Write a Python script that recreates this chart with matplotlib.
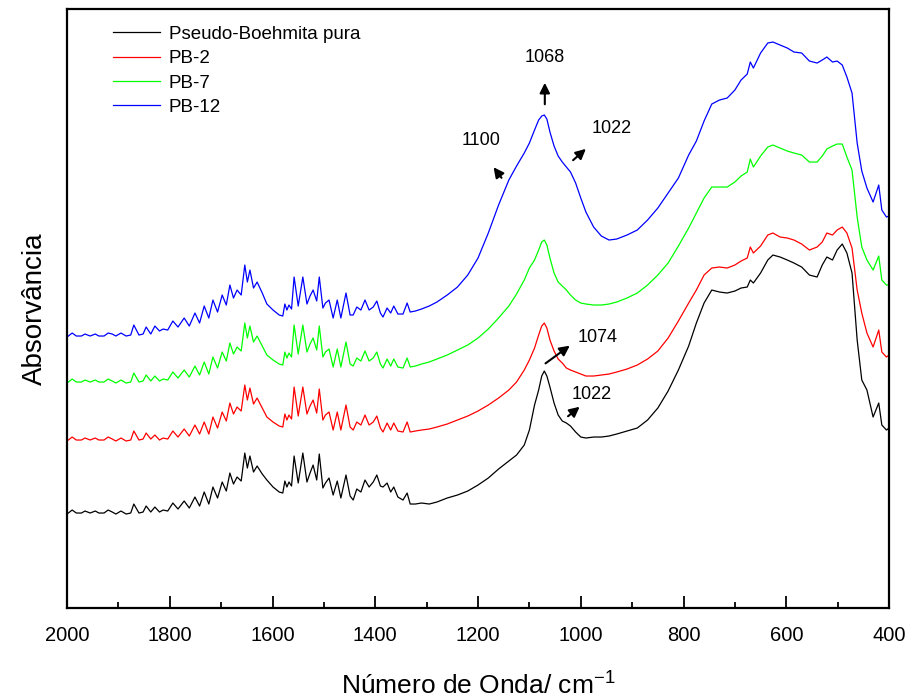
import numpy as np
import matplotlib
matplotlib.use('Agg')
import matplotlib.pyplot as plt
from matplotlib.ticker import MultipleLocator

plt.rcParams['font.family'] = ['Liberation Sans', 'DejaVu Sans']
plt.rcParams['mathtext.fontset'] = 'custom'
plt.rcParams['mathtext.rm'] = 'Liberation Sans'
plt.rcParams['mathtext.it'] = 'Liberation Sans'

# =====================================================================
# dados (número de onda em cm-1, absorbância em u.a.)
# =====================================================================
wavenumber = [
    2000, 1990, 1982, 1972, 1965, 1955, 1945, 1938, 1928, 1920,
    1912, 1905, 1895, 1885, 1876, 1870, 1860, 1852, 1846, 1837,
    1829, 1820, 1813, 1804, 1794, 1784, 1772, 1762, 1751, 1742,
    1733, 1724, 1716, 1707, 1698, 1690, 1683, 1676, 1669, 1661,
    1654, 1649, 1644, 1637, 1630, 1620, 1611, 1599, 1587, 1580,
    1576, 1572, 1568, 1563, 1558, 1550, 1541, 1533, 1527, 1521,
    1514, 1509, 1502, 1497, 1490, 1482, 1474, 1467, 1457, 1449,
    1443, 1436, 1428, 1420, 1412, 1404, 1397, 1390, 1385, 1377,
    1370, 1364, 1356, 1346, 1338, 1332, 1322, 1310, 1295, 1280,
    1260, 1240, 1220, 1200, 1180, 1160, 1140, 1125, 1110, 1100,
    1090, 1082, 1076, 1071, 1066, 1060, 1052, 1044, 1036, 1028,
    1020, 1010, 1000, 990, 975, 960, 945, 930, 910, 890,
    870, 850, 830, 810, 790, 775, 760, 745, 730, 715,
    700, 688, 676, 670, 664, 650, 636, 626, 612, 598,
    585, 570, 555, 540, 530, 521, 510, 501, 491, 482,
    472, 462, 453, 443, 431, 420, 414, 405, 400,
]

pb_pura = [
    94, 98, 95, 95, 97, 95, 97, 95, 95, 98,
    96, 94, 97, 94, 95, 104, 95, 96, 102, 96,
    101, 96, 98, 97, 105, 99, 107, 100, 111, 102,
    116, 104, 121, 110, 126, 117, 135, 124, 131, 127,
    155, 140, 152, 136, 142, 134, 128, 121, 116, 115,
    127, 121, 126, 122, 152, 125, 155, 126, 135, 143,
    128, 154, 120, 125, 130, 113, 127, 110, 133, 112,
    108, 119, 116, 128, 121, 126, 133, 122, 121, 125,
    116, 121, 111, 108, 115, 104, 104, 105, 104, 106,
    110, 113, 117, 123, 130, 139, 147, 153, 163, 178,
    203, 218, 232, 237, 232, 221, 205, 193, 187, 185,
    182, 176, 171, 170, 171, 171, 172, 174, 177, 180,
    188, 200, 217, 238, 262, 285, 305, 318, 316, 315,
    317, 320, 321, 328, 325, 335, 348, 353, 351, 348,
    345, 341, 333, 331, 343, 351, 348, 358, 364, 355,
    335, 268, 228, 218, 191, 205, 183, 178, 180,
]

pb_2 = [
    167, 171, 168, 168, 170, 168, 170, 168, 168, 171,
    169, 167, 170, 167, 168, 177, 168, 169, 175, 169,
    173, 168, 170, 169, 177, 171, 179, 172, 183, 174,
    186, 174, 191, 180, 196, 187, 205, 194, 201, 197,
    223, 208, 220, 204, 210, 200, 191, 186, 182, 181,
    194, 188, 193, 189, 221, 192, 221, 194, 202, 208,
    195, 219, 188, 193, 196, 178, 196, 178, 203, 181,
    178, 186, 183, 193, 183, 186, 192, 180, 176, 185,
    178, 185, 177, 176, 186, 176, 177, 178, 179, 181,
    184, 188, 192, 197, 203, 210, 218, 226, 238, 248,
    260, 273, 282, 285, 280, 268, 257, 249, 245, 240,
    238, 236, 234, 232, 232, 233, 234, 236, 239, 243,
    249, 257, 270, 287, 305, 318, 333, 340, 341, 340,
    343, 347, 350, 361, 355, 362, 373, 375, 371, 370,
    368, 364, 358, 361, 366, 375, 373, 378, 381, 375,
    360, 318, 295, 275, 261, 278, 256, 251, 253,
]

pb_7 = [
    225, 229, 226, 226, 228, 226, 228, 226, 226, 229,
    227, 225, 228, 225, 226, 235, 226, 227, 233, 227,
    232, 227, 229, 228, 236, 230, 238, 231, 242, 233,
    246, 234, 251, 240, 256, 247, 265, 254, 261, 257,
    285, 270, 282, 266, 272, 262, 253, 248, 244, 243,
    256, 250, 255, 251, 283, 254, 283, 256, 264, 270,
    258, 282, 251, 256, 259, 241, 259, 241, 266, 244,
    242, 250, 247, 257, 247, 250, 256, 244, 240, 249,
    242, 249, 241, 240, 250, 241, 242, 244, 246, 249,
    253, 258, 263, 270, 279, 290, 302, 314, 328, 340,
    348, 358, 366, 368, 363, 350, 335, 326, 322, 318,
    313, 308, 305, 304, 303, 303, 304, 306, 310, 315,
    323, 333, 345, 362, 380, 395, 410, 421, 421, 421,
    426, 432, 436, 449, 441, 452, 461, 463, 460, 457,
    455, 453, 446, 446, 452, 459, 462, 464, 464, 451,
    438, 391, 361, 348, 338, 352, 328, 323, 323,
]

pb_12 = [
    271, 275, 272, 272, 274, 272, 274, 272, 272, 275,
    274, 272, 275, 272, 273, 283, 273, 274, 281, 274,
    282, 277, 279, 278, 287, 281, 290, 282, 295, 285,
    302, 290, 308, 296, 313, 303, 323, 310, 318, 313,
    343, 326, 338, 320, 326, 315, 304, 298, 293, 292,
    304, 298, 303, 299, 331, 302, 331, 304, 312, 318,
    307, 331, 300, 305, 308, 290, 308, 290, 315, 293,
    293, 301, 298, 308, 298, 301, 307, 295, 291, 300,
    295, 302, 294, 294, 305, 296, 297, 299, 302, 306,
    313, 321, 333, 350, 375, 403, 428, 442, 455, 465,
    478, 488, 492, 493, 489, 476, 462, 452, 446, 441,
    436, 425, 410, 396, 381, 372, 368, 369, 373, 378,
    388, 400, 415, 430, 453, 467, 487, 504, 508, 510,
    518, 528, 534, 546, 540, 555, 565, 566, 563, 560,
    556, 555, 547, 545, 548, 551, 546, 547, 543, 531,
    515, 465, 437, 420, 406, 423, 398, 391, 392,
]

series_labels = ['Pseudo-Boehmita pura', 'PB-2', 'PB-7', 'PB-12']
series_colors = ['black', '#ff0000', '#00ff00', '#0000ff']

# anotações: texto, posição do texto, cauda e ponta da seta
annot_text = ['1068', '1100', '1022', '1074', '1022']
annot_text_pos = [(1070, 551), (1194, 468), (939, 480), (968, 271), (978, 214)]
annot_tail = [(1070, 501), (1151, 428), (1019, 446), (1073, 243), (1029, 190)]
annot_head = [(1070, 528), (1173, 443), (986, 461), (1017, 264), (998, 203)]

# =====================================================================
# gráfico
# =====================================================================
fig = plt.figure(figsize=(9.12, 7.0), dpi=100)
ax = fig.add_axes([0.0735, 0.1314, 0.9013, 0.8557])

for vals, lab, col in zip([pb_pura, pb_2, pb_7, pb_12], series_labels, series_colors):
    ax.plot(wavenumber, vals, color=col, lw=0.9, label=lab)

for txt, tpos, tail, head in zip(annot_text, annot_text_pos, annot_tail, annot_head):
    ax.annotate('', xy=head, xytext=tail,
                arrowprops=dict(arrowstyle='-|>', color='black', lw=1.5, mutation_scale=15))
    ax.text(tpos[0], tpos[1], txt, fontsize=13, ha='center', va='center')

ax.set_xlim(2000, 400)
ax.set_ylim(0, 599)
ax.set_yticks([])
ax.xaxis.set_major_locator(MultipleLocator(200))
ax.xaxis.set_minor_locator(MultipleLocator(100))
ax.tick_params(axis='x', which='major', direction='in', length=9, width=1.3,
               labelsize=14.5, pad=13)
ax.tick_params(axis='x', which='minor', direction='in', length=4.5, width=1.3)
for sp in ax.spines.values():
    sp.set_linewidth(1.6)

ax.set_xlabel('Número de Onda/ cm$^{-1}$', fontsize=19, labelpad=20)
ax.set_ylabel('Absorvância', fontsize=20, labelpad=14)

ax.legend(loc='upper left', bbox_to_anchor=(0.035, 1.0), frameon=False, fontsize=13.5,
          handlelength=2.5, handletextpad=0.5, labelspacing=0.38)

fig.savefig('out.png', dpi=100)
